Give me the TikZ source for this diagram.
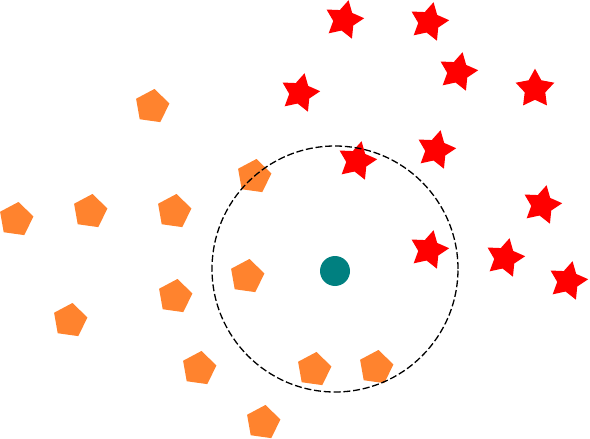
\documentclass[tikz,border=0pt]{standalone}
\usepackage{tikz}
\definecolor{pentorange}{HTML}{FF832E}
\definecolor{starred}{HTML}{FF0000}
\definecolor{dotteal}{HTML}{008080}
\tikzset{
  pentfill/.style={fill=pentorange},
  starfill/.style={fill=starred},
  ringline/.style={draw=black, line width=1.3pt, dash pattern=on 7pt off 2.8pt},
  centerdot/.style={fill=dotteal},
}
\newcommand\mypent[3]{%
  \path[pentfill] (#1,#2) +({90+#3}:17.7pt) -- +({162+#3}:17.7pt) -- +({234+#3}:17.7pt) -- +({306+#3}:17.7pt) -- +({378+#3}:17.7pt) -- cycle;}
\newcommand\mystar[3]{%
  \path[starfill] (#1,#2) +({90+#3}:20.3pt) -- +({126+#3}:10.8pt) -- +({162+#3}:20.3pt) -- +({198+#3}:10.8pt) -- +({234+#3}:20.3pt) -- +({270+#3}:10.8pt) -- +({306+#3}:20.3pt) -- +({342+#3}:10.8pt) -- +({378+#3}:20.3pt) -- +({414+#3}:10.8pt) -- cycle;}
\begin{document}
\begin{tikzpicture}[x=1pt,y=-1pt]
\useasboundingbox (0,0) rectangle (590,439);
% pentagons
\mypent{152}{106.5}{-8}
\mypent{254}{176.5}{-8}
\mypent{16}{219.5}{-8}
\mypent{90}{211.5}{-8}
\mypent{174}{211.5}{-8}
\mypent{247}{276.5}{-8}
\mypent{175}{296.5}{-8}
\mypent{70}{320.5}{-8}
\mypent{199}{368.5}{-8}
\mypent{314}{369.5}{-8}
\mypent{376}{367.5}{-8}
\mypent{263}{422.5}{-8}
% stars
\mystar{344}{20}{-13}
\mystar{429}{22}{-13}
\mystar{458}{72}{-13}
\mystar{535}{89}{0}
\mystar{300}{93}{-13}
\mystar{357}{161}{-13}
\mystar{436}{150}{-13}
\mystar{542}{205}{-13}
\mystar{429}{250}{-13}
\mystar{505}{258}{-13}
\mystar{568}{281}{-13}
% ring and centre
\node[circle, ringline, minimum size=246pt, inner sep=0pt] (ring) at (335,269) {};
\node[circle, centerdot, minimum size=30pt, inner sep=0pt] (query) at (335,271) {};
\end{tikzpicture}
\end{document}
